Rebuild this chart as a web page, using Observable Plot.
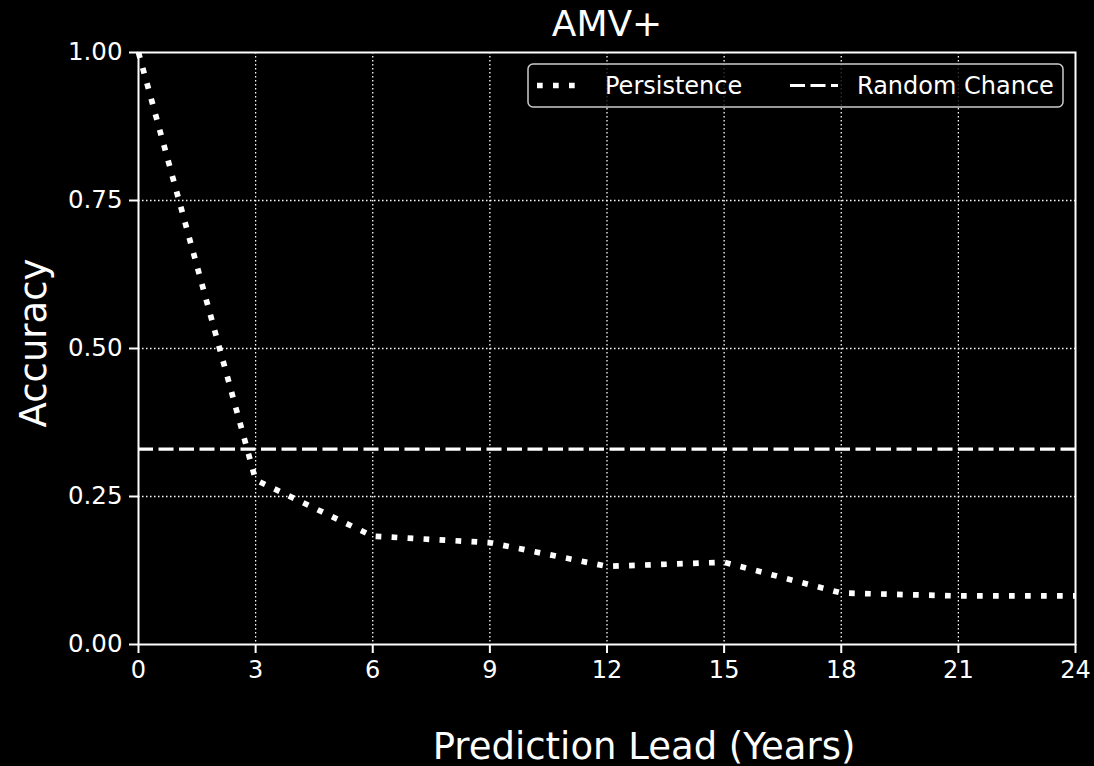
<!DOCTYPE html>
<html>
<head>
<meta charset="utf-8">
<script src="https://cdn.jsdelivr.net/npm/d3@7"></script>
<script src="https://cdn.jsdelivr.net/npm/@observablehq/plot@0.6"></script>
<style>
  html, body { margin: 0; padding: 0; background: #000; }
  #chart { width: 1094px; height: 766px; }
  #chart svg { display: block; }
</style>
</head>
<body>
<div id="chart"></div>
<script>
// Persistence baseline accuracy by prediction lead, AMV+ class
const leadYears = [0, 3, 6, 9, 12, 15, 18, 21, 24];
const persistenceAcc = [1.0, 0.278, 0.183, 0.172, 0.132, 0.139, 0.087, 0.082, 0.082];
const randomChance = 0.33;

const xTicks = [0, 3, 6, 9, 12, 15, 18, 21, 24];
const yTicks = [0, 0.25, 0.5, 0.75, 1];
const yTickLabels = ["0.00", "0.25", "0.50", "0.75", "1.00"];

const titleText = "AMV+";
const xLabel = "Prediction Lead (Years)";
const yLabel = "Accuracy";
const legendLabels = ["Persistence", "Random Chance"];

const persistence = leadYears.map((lead, i) => ({ lead, acc: persistenceAcc[i] }));

const FONT = "'DejaVu Sans', 'Liberation Sans', sans-serif";
const dotted = "5.7,10.3";
const dashed = "15,5.5";

const svg = Plot.plot({
  width: 1094,
  height: 766,
  marginLeft: 138,
  marginRight: 19,
  marginTop: 52,
  marginBottom: 122,
  style: { background: "#000", color: "#fff", fontFamily: FONT, fontSize: "24px", overflow: "visible" },
  x: { domain: [0, 24] },
  y: { domain: [0, 1] },
  marks: [
    Plot.gridX(xTicks.slice(1, -1), { stroke: "#fff", strokeOpacity: 1, strokeWidth: 1.3, strokeDasharray: "1.5,2.5" }),
    Plot.gridY(yTicks.slice(1, -1), { stroke: "#fff", strokeOpacity: 1, strokeWidth: 1.3, strokeDasharray: "1.5,2.5" }),
    Plot.ruleY([randomChance], { stroke: "#fff", strokeWidth: 3.2, strokeDasharray: dashed }),
    Plot.line(persistence, {
      x: "lead", y: "acc", stroke: "#fff", strokeWidth: 5.7,
      strokeDasharray: dotted, strokeLinecap: "butt", strokeLinejoin: "miter"
    }),
    Plot.frame({ stroke: "#fff", strokeWidth: 2 }),
    Plot.axisX(xTicks, { tickSize: 9, tickPadding: 7, strokeWidth: 2, label: null, fontSize: 24 }),
    Plot.axisY(yTicks, {
      tickSize: 9, tickPadding: 7, strokeWidth: 2, label: null, fontSize: 24.5,
      tickFormat: d => yTickLabels[yTicks.indexOf(d)]
    }),
    Plot.text([titleText], { frameAnchor: "top", lineAnchor: "bottom", dy: -17, fontSize: 36, fill: "#fff" }),
    Plot.text([xLabel], { frameAnchor: "bottom", lineAnchor: "bottom", dx: 37, dy: 114, fontSize: 37, fill: "#fff" }),
    Plot.text([yLabel], {
      frameAnchor: "left", textAnchor: "middle", rotate: -90, lineAnchor: "middle",
      dx: -104.7, dy: -5.5, fontSize: 37, fill: "#fff"
    })
  ]
});

// Legend box in the upper right of the axes
const g = d3.select(svg).append("g")
  .attr("font-family", FONT).attr("font-size", 24).attr("text-anchor", "start");
g.append("rect")
  .attr("x", 528).attr("y", 64).attr("width", 535).attr("height", 43).attr("rx", 5)
  .attr("fill", "rgba(0,0,0,0.8)").attr("stroke", "#cccccc").attr("stroke-width", 1.5);
g.append("line")
  .attr("x1", 537).attr("x2", 585).attr("y1", 85.5).attr("y2", 85.5)
  .attr("stroke", "#fff").attr("stroke-width", 5.7).attr("stroke-dasharray", dotted);
g.append("text").attr("x", 605).attr("y", 93.5).attr("fill", "#fff").text(legendLabels[0]);
g.append("line")
  .attr("x1", 790).attr("x2", 838).attr("y1", 85.5).attr("y2", 85.5)
  .attr("stroke", "#fff").attr("stroke-width", 3.2).attr("stroke-dasharray", dashed);
g.append("text").attr("x", 857).attr("y", 93.5).attr("fill", "#fff").text(legendLabels[1]);

document.getElementById("chart").appendChild(svg);
</script>
</body>
</html>
